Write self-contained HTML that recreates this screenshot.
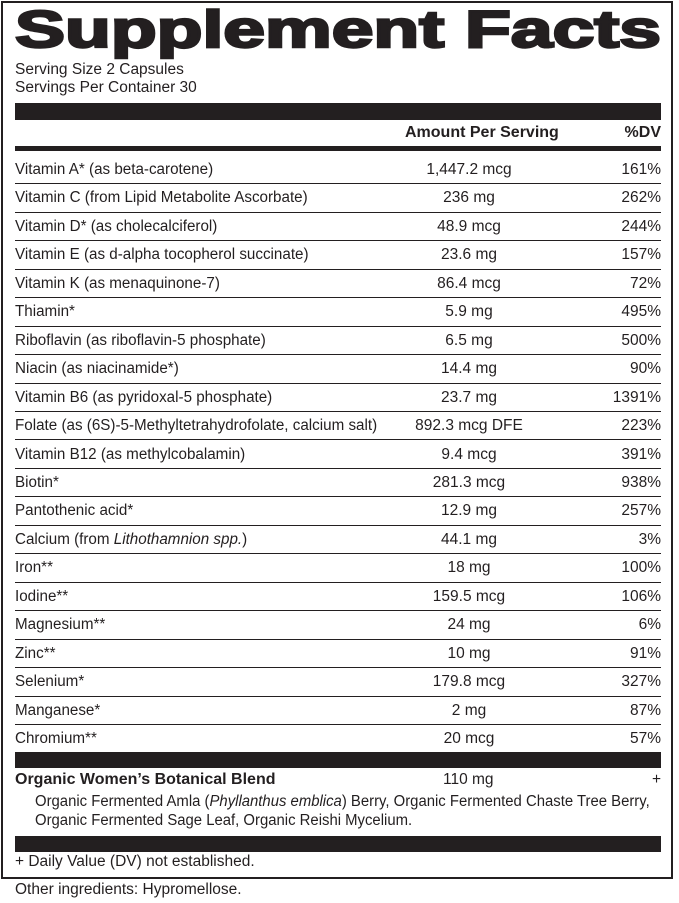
<!DOCTYPE html>
<html><head><meta charset="utf-8"><style>
body{margin:0;width:679px;height:903px;background:#fff;position:relative;overflow:hidden;font-family:"Liberation Sans Narrow","Liberation Sans",sans-serif;color:#231f20}
.box{position:absolute;left:1px;top:1px;width:668px;height:874px;border:2.5px solid #231f20}
.bar{position:absolute;left:15px;width:646px;background:#231f20}
.t{position:absolute;font-size:15.5px;line-height:18px;white-space:nowrap}
.row{position:absolute;left:15px;width:646px;height:28.45px;border-bottom:1px solid #231f20;box-sizing:border-box}
.row span{position:absolute;top:5px;font-size:15.5px;white-space:nowrap}
.n{left:0;transform-origin:0 0;transform:scaleX(0.98)}.a{left:454px;transform:translateX(-50%)}.d{right:0}
.sq{transform-origin:0 0;transform:scaleX(0.96)}
</style></head><body>
<div class="box"></div>
<svg style="position:absolute;left:0;top:0" width="679" height="70"><text x="15" y="47" textLength="646" lengthAdjust="spacingAndGlyphs" font-family="Liberation Sans" font-weight="900" font-size="52" fill="#231f20" stroke="#231f20" stroke-width="2.4">Supplement Facts</text></svg>
<div class="t" style="left:15px;top:61px">Serving Size 2 Capsules</div>
<div class="t" style="left:15px;top:79px">Servings Per Container 30</div>
<div class="bar" style="top:103px;height:17px"></div>
<div class="t" style="left:405px;top:124px;font-weight:bold;font-size:16px">Amount Per Serving</div>
<div class="t" style="right:18px;top:124px;font-weight:bold;font-size:16px">%DV</div>
<div class="bar" style="top:146px;height:5px"></div>
<div id="rows"></div>
<div class="bar" style="top:752px;height:16px"></div>
<div class="t" style="left:15px;top:771px;font-weight:bold;font-size:16px">Organic Women’s Botanical Blend</div>
<div class="t" style="left:443px;top:771px">110 mg</div>
<div class="t" style="right:18px;top:771px">+</div>
<div class="t sq" style="left:35px;top:793px">Organic Fermented Amla (<i>Phyllanthus emblica</i>) Berry, Organic Fermented Chaste Tree Berry,</div>
<div class="t sq" style="left:35px;top:812px">Organic Fermented Sage Leaf, Organic Reishi Mycelium.</div>
<div class="bar" style="top:836px;height:16px"></div>
<div class="t" style="left:15px;top:853px">+ Daily Value (DV) not established.</div>
<div class="t" style="left:15px;top:881px">Other ingredients: Hypromellose.</div>
<script>
var d=[["Vitamin A* (as beta-carotene)","1,447.2 mcg","161%"],["Vitamin C (from Lipid Metabolite Ascorbate)","236 mg","262%"],["Vitamin D* (as cholecalciferol)","48.9 mcg","244%"],["Vitamin E (as d-alpha tocopherol succinate)","23.6 mg","157%"],["Vitamin K (as menaquinone-7)","86.4 mcg","72%"],["Thiamin*","5.9 mg","495%"],["Riboflavin (as riboflavin-5 phosphate)","6.5 mg","500%"],["Niacin (as niacinamide*)","14.4 mg","90%"],["Vitamin B6 (as pyridoxal-5 phosphate)","23.7 mg","1391%"],["Folate (as (6S)-5-Methyltetrahydrofolate, calcium salt)","892.3 mcg DFE","223%"],["Vitamin B12 (as methylcobalamin)","9.4 mcg","391%"],["Biotin*","281.3 mcg","938%"],["Pantothenic acid*","12.9 mg","257%"],["Calcium (from <i>Lithothamnion spp.</i>)","44.1 mg","3%"],["Iron**","18 mg","100%"],["Iodine**","159.5 mcg","106%"],["Magnesium**","24 mg","6%"],["Zinc**","10 mg","91%"],["Selenium*","179.8 mcg","327%"],["Manganese*","2 mg","87%"],["Chromium**","20 mcg","57%"]];
var h="";for(var i=0;i<d.length;i++){h+='<div class="row" style="top:'+(156+i*28.45)+'px;'+(i==d.length-1?'border-bottom:none':'')+'"><span class="n">'+d[i][0]+'</span><span class="a">'+d[i][1]+'</span><span class="d">'+d[i][2]+'</span></div>';}
document.getElementById("rows").innerHTML=h;
</script>
</body></html>
